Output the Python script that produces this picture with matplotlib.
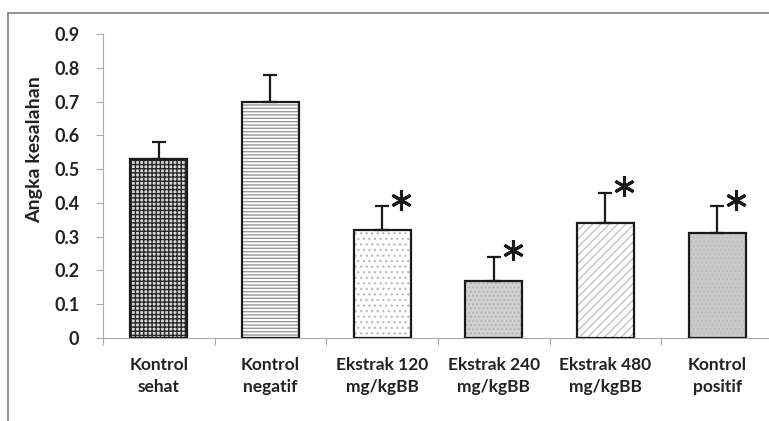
import matplotlib.pyplot as plt
from matplotlib.lines import Line2D

# data
categories = ["Kontrol\nsehat", "Kontrol\nnegatif", "Ekstrak 120\nmg/kgBB",
              "Ekstrak 240\nmg/kgBB", "Ekstrak 480\nmg/kgBB", "Kontrol\npositif"]
means = [0.53, 0.70, 0.32, 0.17, 0.34, 0.31]
errors = [0.05, 0.08, 0.07, 0.07, 0.09, 0.08]
significant = [False, False, True, True, True, True]
yticks = [0, 0.1, 0.2, 0.3, 0.4, 0.5, 0.6, 0.7, 0.8, 0.9]

# fill style for each bar: face, hatch, hatch colour
styles = [
    ("#d8d8d8", "++++", "#2a2a2a"),
    ("white", "-----", "#9a9a9a"),
    ("white", "...", "#c0c0c0"),
    ("#d2d2d2", "....", "#b4b4b4"),
    ("white", "////", "#c4c4c4"),
    ("#c9c9c9", "....", "#bdbdbd"),
]

plt.rcParams['font.family'] = ['Lato', 'DejaVu Sans']
plt.rcParams['hatch.linewidth'] = 1.0

fig = plt.figure(figsize=(7.69, 4.21), dpi=100)
ax = fig.add_axes([103 / 769, 1 - 338 / 421, 670 / 769, 304 / 421])

x = list(range(len(categories)))
for xi, m, (face, hatch, hcol) in zip(x, means, styles):
    ax.bar(xi, m, width=0.51, color=face, hatch=hatch, edgecolor=hcol, linewidth=0, zorder=2)
ax.bar(x, means, width=0.51, fill=False, edgecolor="#1a1a1a", linewidth=1.6, zorder=3)

ax.errorbar(x, means, yerr=[[0] * len(means), errors], fmt="none", ecolor="#1a1a1a",
            elinewidth=1.6, capsize=4.7, capthick=1.6, zorder=4)

for xi, m, e, sig in zip(x, means, errors, significant):
    if sig:
        ax.plot(xi + 0.17, m + e + 0.02, marker=(6, 2, 0), markersize=15,
                markeredgewidth=2.2, color="#1a1a1a", zorder=5)

ax.set_xlim(-0.5, len(categories) - 0.5)
ax.set_ylim(0, 0.9)
ax.set_yticks(yticks)
ax.set_yticklabels(["0" if t == 0 else f"{t:.1f}" for t in yticks])
ax.set_xticks([i + 0.5 for i in range(-1, len(categories))], minor=False)
ax.set_xticklabels([])
ax.set_xticks(x, minor=True)
ax.set_xticklabels(categories, minor=True)
ax.tick_params(axis="x", which="minor", length=0, pad=14, labelsize=12.5, colors="#222222")
ax.tick_params(axis="x", which="major", length=5, color="#aaaaaa", direction="out")
ax.tick_params(axis="y", length=5, color="#aaaaaa", pad=12, labelsize=13, labelcolor="#222222")
for lab in ax.get_xticklabels(minor=True) + ax.get_yticklabels():
    lab.set_fontweight("bold")
    lab.set_linespacing(1.45)

for s in ["top", "right"]:
    ax.spines[s].set_visible(False)
ax.spines["left"].set_color("#aaaaaa")
ax.spines["bottom"].set_color("#aaaaaa")

fig.text(35 / 769, 1 - 150 / 421, "Angka kesalahan", rotation=90, ha="center", va="center",
         fontsize=14, fontweight="bold", color="#222222")

# chart area border (cut off on the right and bottom)
fig.add_artist(Line2D([8 / 769, 8 / 769], [0, 1 - 13 / 421], color="#8c8c8c", lw=1.3))
fig.add_artist(Line2D([8 / 769, 1], [1 - 13 / 421, 1 - 13 / 421], color="#8c8c8c", lw=1.3))

fig.savefig("out.png", dpi=100)
